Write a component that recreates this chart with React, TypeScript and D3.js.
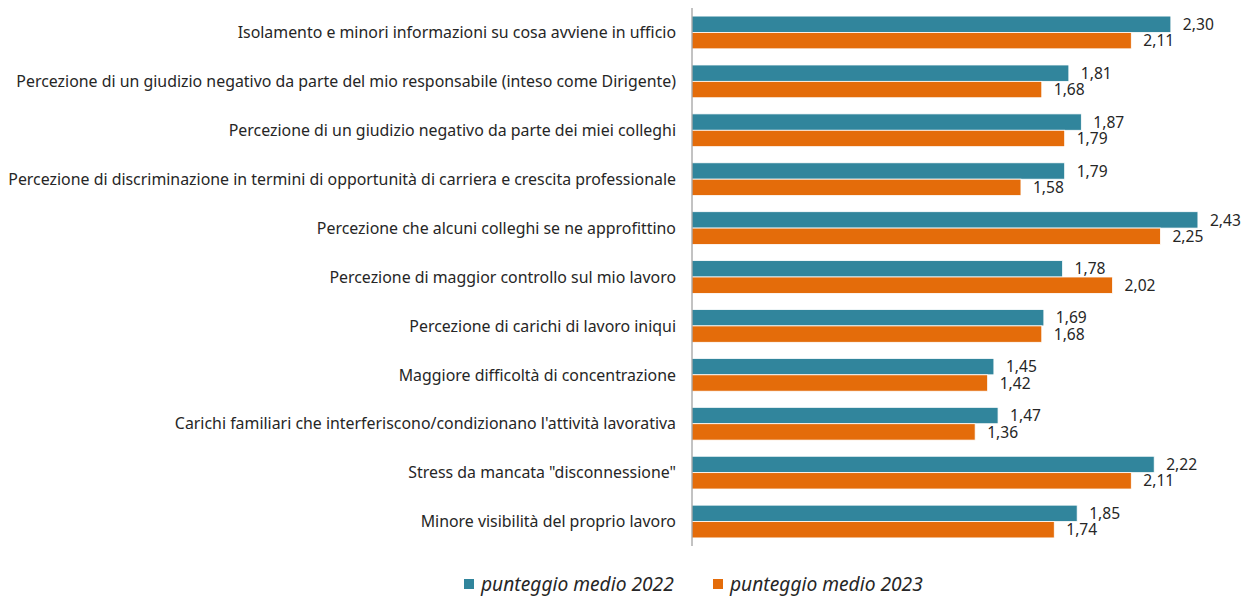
import React from "react";
import * as d3 from "d3";

const categories = [
  "Isolamento e minori informazioni su cosa avviene in ufficio",
  "Percezione di un giudizio negativo da parte del mio responsabile (inteso come Dirigente)",
  "Percezione di un giudizio negativo da parte dei miei colleghi",
  "Percezione di discriminazione in termini di opportunità di carriera e crescita professionale",
  "Percezione che alcuni colleghi se ne approfittino",
  "Percezione di maggior controllo sul mio lavoro",
  "Percezione di carichi di lavoro iniqui",
  "Maggiore difficoltà di concentrazione",
  "Carichi familiari che interferiscono/condizionano l'attività lavorativa",
  "Stress da mancata \"disconnessione\"",
  "Minore visibilità del proprio lavoro",
];
const series = ["punteggio medio 2022", "punteggio medio 2023"];
const values2022 = [2.3, 1.81, 1.87, 1.79, 2.43, 1.78, 1.69, 1.45, 1.47, 2.22, 1.85];
const values2023 = [2.11, 1.68, 1.79, 1.58, 2.25, 2.02, 1.68, 1.42, 1.36, 2.11, 1.74];
const colors = ["#31859C", "#E46C0A"];

const W = 1249;
const H = 596;
const axisX = 692;
const top = 8;
const bottom = 546;

export default function App() {
  const x = d3.scaleLinear().domain([0, 2.5]).range([axisX, axisX + 2.5 * 208.2]);
  const y = d3
    .scaleBand<string>()
    .domain(categories)
    .range([top, bottom])
    .paddingInner(0.33)
    .paddingOuter(0.165);
  const inner = d3.scaleBand<string>().domain(series).range([0, y.bandwidth()]);
  const all = [values2022, values2023];
  const fmt = (v: number) => d3.format(".2f")(v).replace(".", ",");
  const font = "'Noto Sans', 'Open Sans', sans-serif";

  return (
    <svg
      width={W}
      height={H}
      style={{ position: "absolute", left: 0, top: 0, background: "#fff" }}
    >
      {categories.map((c, i) => (
        <g key={c}>
          {series.map((s, k) => {
            const v = all[k][i];
            const by = (y(c) as number) + (inner(s) as number);
            return (
              <g key={s}>
                <rect
                  x={x(0)}
                  y={by}
                  width={x(v) - x(0)}
                  height={inner.bandwidth()}
                  fill={colors[k]}
                  stroke="#fff"
                  strokeWidth={0.8}
                />
                <text
                  x={x(v) + 12}
                  y={by + inner.bandwidth() / 2}
                  dy="0.36em"
                  fontFamily={font}
                  fontSize={15.6}
                  fill="#262626"
                >
                  {fmt(v)}
                </text>
              </g>
            );
          })}
          <text
            x={axisX - 16}
            y={(y(c) as number) + y.bandwidth() / 2}
            dy="0.36em"
            textAnchor="end"
            fontFamily={font}
            fontSize={15.9}
            fill="#262626"
          >
            {c}
          </text>
        </g>
      ))}
      <line x1={axisX} x2={axisX} y1={top} y2={bottom} stroke="#868686" strokeWidth={1} />
      {series.map((s, k) => {
        const lx = [464, 713][k];
        return (
          <g key={s}>
            <rect x={lx} y={579} width={10} height={10} fill={colors[k]} />
            <text
              x={lx + 17}
              y={584}
              dy="0.36em"
              fontFamily={font}
              fontSize={19.2}
              fontStyle="italic"
              fill="#262626"
            >
              {s}
            </text>
          </g>
        );
      })}
    </svg>
  );
}
